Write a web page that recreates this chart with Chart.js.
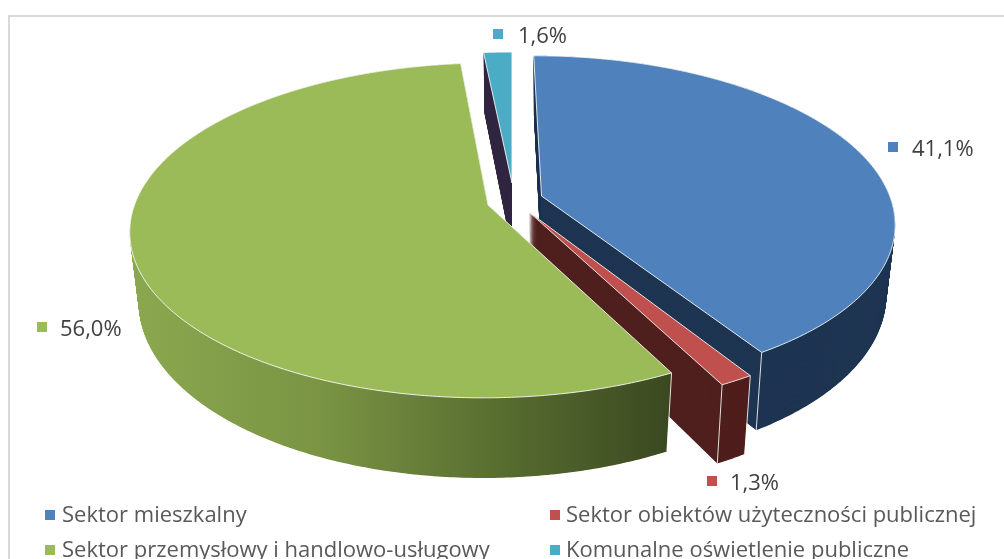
<!DOCTYPE html>
<html><head><meta charset="utf-8">
<style>html,body{margin:0;padding:0;background:#fff;overflow:hidden}canvas{display:block}</style>
<script src="https://cdn.jsdelivr.net/npm/chart.js@4"></script></head>
<body><canvas id="c" width="1004" height="559"></canvas>
<script>
const categories = ["Sektor mieszkalny","Sektor obiektów użyteczności publicznej","Sektor przemysłowy i handlowo-usługowy","Komunalne oświetlenie publiczne"];
const shares = [41.1,1.3,56.0,1.6];
const topColors = ["#4F81BD","#C0504D","#9BBB59","#4BACC6"];

// drawing geometry
const R=350,S=162,P=0.15,DEPTH=68,Q=0.975;
const tips=[[541.5,196],[529,212],[488,205],[512,183]];
const scales=[0.995,1.035,1.01,0.92];
const shears=[9,0,-4,0];
const wallOrder=[3,0,1,2];
const wallFill=[
  ()=>"#1E3552",()=>"#4F1F1D",
  (ctx)=>{const g=ctx.createLinearGradient(130,0,672,0);
    g.addColorStop(0,"#8BA84F");g.addColorStop(0.35,"#7A9444");g.addColorStop(0.7,"#566B2F");g.addColorStop(1,"#3A4820");return g;},
  ()=>"#322840"];
const valueLabels=[{m:[888,142],t:[912,150]},{m:[707,476],t:[730,484]},{m:[37,322],t:[60,330]},{m:[493,29],t:[518,37]}];
const legendSlots=[{m:[45,510],t:[62,516]},{m:[550,510],t:[566,516]},{m:[45,545],t:[62,551]},{m:[550,545],t:[566,551]}];
const FONT='"Open Sans", sans-serif';

function project(i,a,r,t){
  const k=scales[i]*r, u=Math.cos(a)*k, v=Math.sin(a)*k, w=1-P*v, q=1-(1-Q)*t;
  return [tips[i][0]+q*(R*u+shears[i]*v)/w, tips[i][1]+S*v/w+t*DEPTH/w];
}
function slicePath(ctx,i,a0,a1,t){
  ctx.beginPath();
  let p=project(i,a0,0,t);ctx.moveTo(p[0],p[1]);
  const n=Math.max(4,Math.ceil((a1-a0)/0.01));
  for(let j=0;j<=n;j++){p=project(i,a0+(a1-a0)*j/n,1,t);ctx.lineTo(p[0],p[1]);}
  ctx.closePath();
}
// Top face of each slice is drawn by the library's arc element, with its own angles.
Chart.ArcElement.prototype.draw=function(ctx){
  const i=this.$context.dataIndex;
  ctx.save();
  slicePath(ctx,i,this.startAngle,this.endAngle,0);
  ctx.fillStyle=this.options.backgroundColor;ctx.fill();
  ctx.strokeStyle="rgba(255,255,255,0.85)";ctx.lineWidth=1;ctx.lineJoin="round";ctx.stroke();
  ctx.restore();
};
const frameAndWalls={id:"frameAndWalls",beforeDatasetsDraw(chart){
  const ctx=chart.ctx, arcs=chart.getDatasetMeta(0).data;
  ctx.save();
  ctx.strokeStyle="#D9D9D9";ctx.lineWidth=2;
  ctx.beginPath();ctx.moveTo(9,559);ctx.lineTo(9,16);ctx.lineTo(1004,16);ctx.stroke();
  for(const i of wallOrder){
    const a=arcs[i];
    ctx.fillStyle=wallFill[i](ctx);
    for(let d=DEPTH;d>=0;d-=0.5){slicePath(ctx,i,a.startAngle,a.endAngle,d/DEPTH);ctx.fill();}
    if(i!==3){
      ctx.strokeStyle="rgba(255,255,255,0.85)";ctx.lineWidth=1;
      for(const e of (i===2?[a.startAngle]:[a.startAngle,a.endAngle])){
        if(i===0&&e===a.startAngle)continue;
        const p0=project(i,e,1,0),p1=project(i,e,1,1);
        ctx.beginPath();ctx.moveTo(p0[0],p0[1]);ctx.lineTo(p1[0],p1[1]);ctx.stroke();
      }
    }
  }
  ctx.restore();
}};
const texts={id:"texts",afterDatasetsDraw(chart){
  const ctx=chart.ctx;
  ctx.save();ctx.textBaseline="middle";ctx.textAlign="left";
  ctx.font="22px "+FONT;
  shares.forEach((v,i)=>{
    const l=valueLabels[i];
    ctx.fillStyle=topColors[i];ctx.fillRect(l.m[0],l.m[1],10,10);
    ctx.fillStyle="#404040";
    ctx.fillText(v.toFixed(1).replace(".",",")+"%",l.t[0],l.t[1]);
  });
  categories.forEach((c,i)=>{
    const l=legendSlots[i];
    ctx.fillStyle=topColors[i];ctx.fillRect(l.m[0],l.m[1],10,10);
    ctx.fillStyle="#595959";
    ctx.fillText(c,l.t[0],l.t[1]);
  });
  ctx.restore();
}};
new Chart(document.getElementById("c"),{
  type:"pie",
  data:{labels:categories,datasets:[{data:shares,backgroundColor:topColors,borderWidth:0}]},
  options:{responsive:false,animation:false,layout:{padding:0},
    plugins:{legend:{display:false},tooltip:{enabled:false},title:{display:false}}},
  plugins:[frameAndWalls,texts]
});
</script></body></html>
